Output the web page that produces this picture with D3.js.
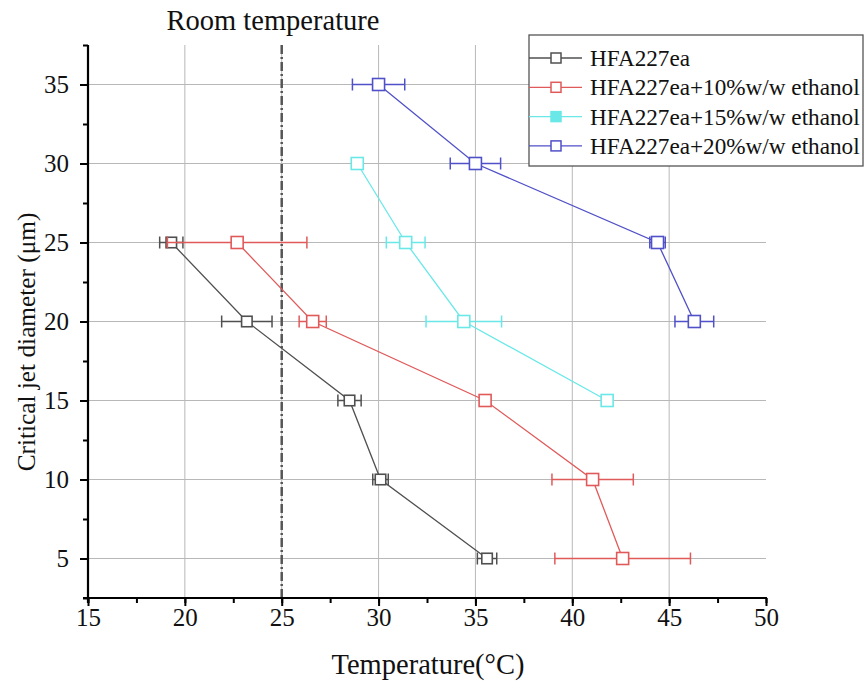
<!DOCTYPE html>
<html><head><meta charset="utf-8">
<script src="https://cdn.jsdelivr.net/npm/d3@7/dist/d3.min.js"></script>
<style>body{margin:0;background:#fff;} svg text{font-family:"Liberation Serif","Times New Roman",serif;}</style>
</head><body><svg id="c" width="865" height="690"></svg>
<script>
const seriesNames = ["HFA227ea","HFA227ea+10%w/w ethanol","HFA227ea+15%w/w ethanol","HFA227ea+20%w/w ethanol"];
const seriesColors = ["#505050","#e05a5a","#6ae8e8","#5050c8"];
const d0_y = [25,20,15,10,5];
const d0_x = [19.3,23.2,28.5,30.1,35.6];
const d0_e = [0.6,1.3,0.6,0.4,0.5];
const d1_y = [25,20,15,10,5];
const d1_x = [22.7,26.6,35.5,41.05,42.6];
const d1_e = [3.6,0.7,0.15,2.1,3.5];
const d2_y = [30,25,20,15];
const d2_x = [28.9,31.4,34.4,41.8];
const d2_e = [0,1.0,1.95,0];
const d3_y = [35,30,25,20];
const d3_x = [30.0,35.0,44.4,46.3];
const d3_e = [1.35,1.3,0.4,1.0];
const xTicks = [15,20,25,30,35,40,45,50];
const yTicks = [5,10,15,20,25,30,35];
const roomTemp = 25;

const series = [[d0_x,d0_y,d0_e],[d1_x,d1_y,d1_e],[d2_x,d2_y,d2_e],[d3_x,d3_y,d3_e]];
const svg = d3.select("#c");
const L=88,R=766,T=45,B=598;
const x = d3.scaleLinear().domain([15,50]).range([L,R]);
const y = d3.scaleLinear().domain([2.5,37.5]).range([B,T]);

// grid
svg.append("g").selectAll("line").data(xTicks.filter(v=>v>15&&v<50)).join("line")
  .attr("x1",d=>x(d)).attr("x2",d=>x(d)).attr("y1",T).attr("y2",B)
  .attr("stroke","#b8b8b8").attr("stroke-width",1);
svg.append("g").selectAll("line").data(yTicks).join("line")
  .attr("x1",L).attr("x2",R).attr("y1",d=>y(d)).attr("y2",d=>y(d))
  .attr("stroke","#b8b8b8").attr("stroke-width",1);

// room temp line
svg.append("line").attr("x1",x(roomTemp)).attr("x2",x(roomTemp)).attr("y1",T).attr("y2",B)
  .attr("stroke","#555").attr("stroke-width",2.5).attr("stroke-dasharray","9,3,2,3");
svg.append("text").attr("x",273).attr("y",30).attr("text-anchor","middle")
  .attr("font-size",28.5).attr("fill","#111").text("Room temperature");

// axes
const minorX = d3.range(15,50.01,2.5), minorY = d3.range(2.5,37.51,2.5);
const xAx = svg.append("g").attr("transform",`translate(0,${B})`)
  .call(d3.axisBottom(x).tickValues(minorX).tickSize(5).tickFormat(""));
xAx.select(".domain").remove();
xAx.selectAll("line").attr("stroke","#000").attr("stroke-width",2);
const xAx2 = svg.append("g").attr("transform",`translate(0,${B})`)
  .attr("font-family","Liberation Serif").attr("font-size",25)
  .call(d3.axisBottom(x).tickValues(xTicks).tickSize(8).tickPadding(2));
xAx2.attr("font-family","Liberation Serif").attr("font-size",25);
xAx2.select(".domain").remove();
xAx2.selectAll("line").attr("stroke","#000").attr("stroke-width",2);
xAx2.selectAll("text").attr("fill","#111");

const yAx = svg.append("g").attr("transform",`translate(${L},0)`)
  .call(d3.axisLeft(y).tickValues(minorY).tickSize(5).tickFormat(""));
yAx.select(".domain").remove();
yAx.selectAll("line").attr("stroke","#000").attr("stroke-width",2);
const yAx2 = svg.append("g").attr("transform",`translate(${L},0)`)
  .call(d3.axisLeft(y).tickValues(yTicks).tickSize(8).tickPadding(11));
yAx2.attr("font-family","Liberation Serif").attr("font-size",25);
yAx2.select(".domain").remove();
yAx2.selectAll("line").attr("stroke","#000").attr("stroke-width",2);
yAx2.selectAll("text").attr("fill","#111");

svg.append("line").attr("x1",L-5).attr("x2",R+1).attr("y1",B).attr("y2",B).attr("stroke","#000").attr("stroke-width",2.2);
svg.append("line").attr("x1",L).attr("x2",L).attr("y1",T).attr("y2",B+5).attr("stroke","#000").attr("stroke-width",2.2);

svg.append("text").attr("x",428).attr("y",674).attr("text-anchor","middle")
  .attr("font-size",28.5).attr("fill","#111").text("Temperature(°C)");
svg.append("text").attr("transform","translate(35,342) rotate(-90)").attr("text-anchor","middle")
  .attr("font-size",25.3).attr("fill","#111").text("Critical jet diameter (μm)");

// series
series.forEach((s,i)=>{
  const [xs,ys,es]=s; const col=seriesColors[i];
  const pts = xs.map((v,j)=>({x:v,y:ys[j],e:es[j]}));
  const g = svg.append("g");
  g.append("path").datum(pts).attr("fill","none").attr("stroke",col).attr("stroke-width",1.3)
    .attr("d",d3.line().x(d=>x(d.x)).y(d=>y(d.y)));
  pts.filter(d=>d.e>0).forEach(d=>{
    g.append("line").attr("x1",x(d.x-d.e)).attr("x2",x(d.x+d.e)).attr("y1",y(d.y)).attr("y2",y(d.y)).attr("stroke",col).attr("stroke-width",1.5);
    [d.x-d.e,d.x+d.e].forEach(v=>g.append("line").attr("x1",x(v)).attr("x2",x(v)).attr("y1",y(d.y)-6).attr("y2",y(d.y)+6).attr("stroke",col).attr("stroke-width",1.5));
  });
  const sz = i===0?10.5:12;
  g.selectAll("rect").data(pts).join("rect")
    .attr("x",d=>x(d.x)-sz/2).attr("y",d=>y(d.y)-sz/2).attr("width",sz).attr("height",sz)
    .attr("fill","#fff").attr("stroke",col).attr("stroke-width",1.6);
});

// legend
const lg = svg.append("g");
lg.append("rect").attr("x",529).attr("y",35).attr("width",334).attr("height",131)
  .attr("fill","#fff").attr("stroke","#555").attr("stroke-width",1.3);
seriesNames.forEach((n,i)=>{
  const cy = 58 + i*29.3;
  lg.append("line").attr("x1",529).attr("x2",582).attr("y1",cy).attr("y2",cy).attr("stroke",seriesColors[i]).attr("stroke-width",1.3);
  lg.append("rect").attr("x",551).attr("y",cy-5).attr("width",10).attr("height",10)
    .attr("fill",i===2?seriesColors[i]:"#fff").attr("stroke",seriesColors[i]).attr("stroke-width",1.5);
  lg.append("text").attr("x",590).attr("y",cy+8).attr("font-size",23.2).attr("fill","#111").text(n);
});
</script></body></html>
